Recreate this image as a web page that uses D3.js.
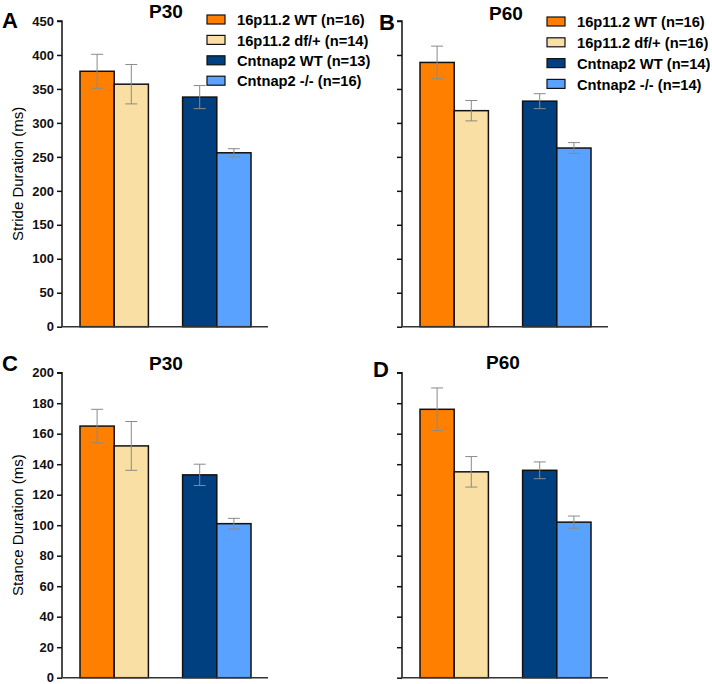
<!DOCTYPE html>
<html><head><meta charset="utf-8">
<script src="https://cdn.jsdelivr.net/npm/d3@7"></script>
<style>body{margin:0;background:#fff}svg{display:block}</style>
</head><body>
<script>
const groups = ["16p11.2 WT", "16p11.2 df/+", "Cntnap2 WT", "Cntnap2 -/-"];
const colors = ["#FF8000", "#F9DFA3", "#003F80", "#5AA2FF"];
const nP30 = [16, 14, 13, 16];
const nP60 = [16, 16, 14, 14];
const strideP30 = [376, 357, 338, 256];
const strideP30Err = [25, 29, 17, 6];
const strideP60 = [389, 318, 332, 263];
const strideP60Err = [24, 15, 11, 8];
const stanceP30 = [165, 152, 133, 101];
const stanceP30Err = [11, 16, 7, 3.5];
const stanceP60 = [176, 135, 136, 102];
const stanceP60Err = [14, 10, 5.5, 4];
const strideTicks = [0, 50, 100, 150, 200, 250, 300, 350, 400, 450];
const stanceTicks = [0, 20, 40, 60, 80, 100, 120, 140, 160, 180, 200];

const svg = d3.select("body").append("svg").attr("width", 712).attr("height", 684);
const font = "Liberation Sans, Arial, sans-serif";

function panel(o) {
  const g = svg.append("g").attr("transform", `translate(${o.x},0)`);
  const y = d3.scaleLinear().domain([0, o.max]).range([o.y0, o.y1]);
  const x = d3.scaleBand().domain(["g0", "g1", "gap", "g2", "g3"]).range([18, 189]).padding(0);
  const keys = ["g0", "g1", "g2", "g3"];
  g.selectAll("rect.bar").data(o.vals).enter().append("rect")
    .attr("x", (d, i) => x(keys[i])).attr("width", x.bandwidth())
    .attr("y", d => y(d)).attr("height", d => y(0) - y(d))
    .attr("fill", (d, i) => colors[i]).attr("stroke", "#111").attr("stroke-width", 1.5);
  const eg = g.append("g").attr("stroke", "#8a8a8a").attr("stroke-width", 1);
  o.vals.forEach((v, i) => {
    const cx = x(keys[i]) + x.bandwidth() / 2;
    eg.append("line").attr("x1", cx).attr("x2", cx).attr("y1", y(v + o.err[i])).attr("y2", y(v - o.err[i]));
    [v + o.err[i], v - o.err[i]].forEach(e => eg.append("line").attr("x1", cx - 6).attr("x2", cx + 6).attr("y1", y(e)).attr("y2", y(e)));
  });
  const ax = g.append("g").call(d3.axisLeft(y).tickValues(o.ticks).tickSize(5).tickPadding(3)
    .tickFormat(o.labels ? d3.format("d") : ""));
  ax.select(".domain").attr("stroke", "#111").attr("stroke-width", 1.5).attr("d", `M-5,${y(o.max)}H0V${y(0)}`);
  ax.selectAll(".tick line").attr("stroke", "#111").attr("stroke-width", 1.5);
  ax.selectAll(".tick text").attr("font-family", font).attr("font-weight", "bold").attr("font-size", 13).attr("fill", "#111");
  g.append("line").attr("x1", 0).attr("x2", 206).attr("y1", y(0)).attr("y2", y(0)).attr("stroke", "#333").attr("stroke-width", 1.5);
  g.append("text").attr("x", o.tx).attr("y", o.ty).attr("text-anchor", "middle")
    .attr("font-family", font).attr("font-weight", "bold").attr("font-size", 19).text(o.title);
  svg.append("text").attr("x", o.lx).attr("y", o.ly).attr("font-family", font).attr("font-weight", "bold")
    .attr("font-size", 22).text(o.letter);
  if (o.ylabel) {
    svg.append("text").attr("transform", `translate(23,${(o.y0 + o.y1) / 2}) rotate(-90)`).attr("text-anchor", "middle")
      .attr("font-family", font).attr("font-size", 15).text(o.ylabel);
  }
  if (o.legend) {
    const lg = svg.append("g").attr("transform", `translate(${o.legend.x},${o.legend.y})`);
    groups.forEach((name, i) => {
      const r = lg.append("g").attr("transform", `translate(0,${i * o.legend.dy})`);
      r.append("rect").attr("x", 0).attr("y", -5).attr("width", 18).attr("height", 9)
        .attr("fill", colors[i]).attr("stroke", "#111").attr("stroke-width", 1.2);
      r.append("text").attr("x", 30).attr("y", 0).attr("dy", "0.36em").attr("font-family", font)
        .attr("font-weight", "bold").attr("font-size", 14.7).text(`${name} (n=${o.legend.n[i]})`);
    });
  }
}

panel({x: 62, y0: 326.7, y1: 21, max: 450, ticks: strideTicks, labels: true, vals: strideP30, err: strideP30Err,
  title: "P30", tx: 104, ty: 18, letter: "A", lx: 2, ly: 28, ylabel: "Stride Duration (ms)",
  legend: {x: 207, y: 20, dy: 20.4, n: nP30}});
panel({x: 402, y0: 326.7, y1: 21, max: 450, ticks: strideTicks, labels: false, vals: strideP60, err: strideP60Err,
  title: "P60", tx: 104, ty: 20, letter: "B", lx: 379, ly: 30,
  legend: {x: 547, y: 22, dy: 20.8, n: nP60}});
panel({x: 62, y0: 677.7, y1: 372.7, max: 200, ticks: stanceTicks, labels: true, vals: stanceP30, err: stanceP30Err,
  title: "P30", tx: 104, ty: 370, letter: "C", lx: 2, ly: 371, ylabel: "Stance Duration (ms)"});
panel({x: 402, y0: 677.7, y1: 372.7, max: 200, ticks: stanceTicks, labels: false, vals: stanceP60, err: stanceP60Err,
  title: "P60", tx: 101, ty: 369, letter: "D", lx: 373, ly: 377});
</script>
</body></html>
